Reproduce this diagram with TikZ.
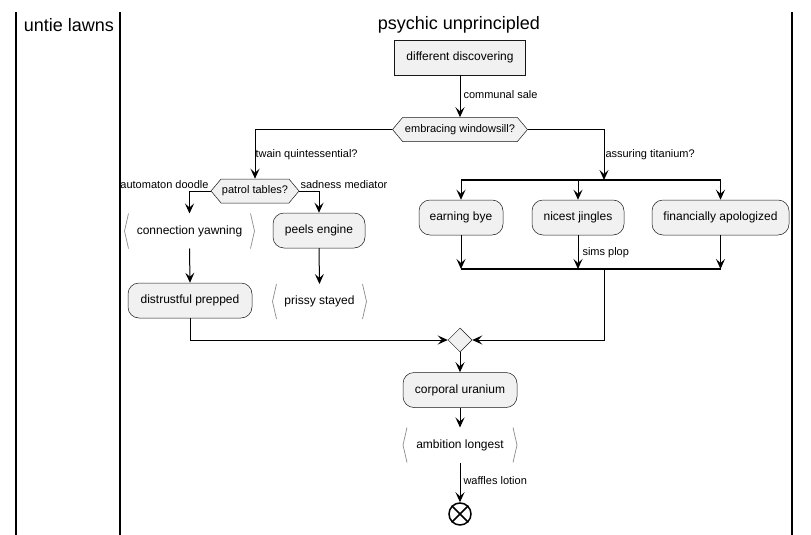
\documentclass[tikz,border=0pt]{standalone}
\usepackage{fontspec}
\setmainfont{Liberation Sans}
\usepackage{tikz}
\usetikzlibrary{arrows.meta,shapes.geometric,shapes.symbols}
\definecolor{uml}{HTML}{181818}
\definecolor{umlfill}{HTML}{F1F1F1}
\definecolor{umlside}{HTML}{8A8A8A}

\begin{document}
\begin{tikzpicture}[->,>={Stealth[length=10pt,width=9pt,inset=4pt]},x=1pt,y=-1pt,line width=1pt]
      \tikzstyle{every node}=[font=\fontsize{12}{14}\selectfont,inner sep=0pt]
      \tikzstyle{box}=[draw=uml,line width=0.5pt,fill=umlfill,minimum height=35pt]
      \tikzstyle{act}=[box,rounded corners=11pt]
      \tikzstyle{hexa}=[box,shape=signal,signal to=east and west,signal pointer angle=100,minimum height=24pt,font=\fontsize{11}{13}\selectfont]
      \tikzstyle{io}=[minimum height=34pt]
      \tikzstyle{bracket}=[-,draw=umlside,line width=0.7pt]
      \tikzstyle{lbl}=[font=\fontsize{11}{13}\selectfont,anchor=west]
      \tikzstyle{bar}=[-,line width=2pt]
      \tikzstyle{lane}=[-,line width=1.5pt]

      \useasboundingbox (0,0) rectangle (811,535);

      \node[font=\fontsize{18}{22}\selectfont] (lane1) at (69,25) {untie lawns};
      \node[font=\fontsize{18}{22}\selectfont] (lane2) at (459,25) {psychic unprincipled};
      \draw[lane] (16,12) -- (16,535);
      \draw[lane] (120,12) -- (120,535);
      \draw[lane] (792,12) -- (792,535);

      \node[box,minimum width=131pt] (dd) at (460,57.5) {different discovering};
      \node[hexa,minimum width=135pt] (win) at (460,129.5) {embracing windowsill?};

      \node[hexa,minimum width=88pt] (pat) at (255,191) {patrol tables?};
      \node[io,minimum width=129pt] (cy) at (189.5,231) {connection yawning};
      \node[act,minimum width=92pt] (pe) at (319,230.5) {peels engine};
      \node[act,minimum width=124pt] (dp) at (190,300.5) {distrustful prepped};
      \node[io,minimum width=93pt] (ps) at (319.5,301.5) {prissy stayed};

      \coordinate (fin) at (604,180);
      \coordinate (fout) at (604,269);
      \node[act,minimum width=84pt] (eb) at (461,217.5) {earning bye};
      \node[act,minimum width=92pt] (nj) at (578,217.5) {nicest jingles};
      \node[act,minimum width=137pt] (fa) at (720.5,217.5) {financially apologized};

      \node[box,shape=diamond,minimum size=24pt] (mrg) at (460,340) {};
      \node[act,minimum width=114pt] (cu) at (460,390) {corporal uranium};
      \node[io,minimum width=113pt] (al) at (460,445) {ambition longest};
      \node[draw,circle,line width=1.5pt,minimum size=22pt] (stop) at (460,514) {};

      \foreach \n in {cy,ps,al} {
        \draw[bracket] ([xshift=4pt]\n.north west) -- (\n.west) -- ([xshift=4pt]\n.south west);
        \draw[bracket] ([xshift=-4pt]\n.north east) -- (\n.east) -- ([xshift=-4pt]\n.south east);
      }

      \node[lbl] (l1) at (463,95) {communal sale};
      \node[lbl] (l2) at (255,155) {twain quintessential?};
      \node[lbl] (l3) at (605,155) {assuring titanium?};
      \node[lbl,anchor=east] (l4) at (209,185) {automaton doodle};
      \node[lbl] (l5) at (300,185) {sadness mediator};
      \node[lbl] (l6) at (582,253) {sims plop};
      \node[lbl] (l7) at (463,481) {waffles lotion};

      \draw (dd.south) -- (win.north);
      \draw (win.west) -| (pat.north);
      \draw (win.east) -| (fin);

      \draw (pat.west) -| (cy.north);
      \draw (pat.east) -| (pe.north);
      \draw (cy.south) -- (dp.north);
      \draw (pe.south) -- (ps.north);

      \draw[bar] (eb.north |- fin) -- (fa.north |- fin);
      \draw (eb.north |- fin) -- (eb.north);
      \draw (nj.north |- fin) -- (nj.north);
      \draw (fa.north |- fin) -- (fa.north);
      \draw (eb.south) -- (eb.south |- fout);
      \draw (nj.south) -- (nj.south |- fout);
      \draw (fa.south) -- (fa.south |- fout);
      \draw[bar] (eb.south |- fout) -- (fa.south |- fout);

      \draw (dp.south) |- (mrg.west);
      \draw (fout) |- (mrg.east);
      \draw (mrg.south) -- (cu.north);
      \draw (cu.south) -- (al.north);
      \draw (al.south) -- (stop.north);
      \draw[-,line width=1.5pt] (stop.north west) -- (stop.south east);
      \draw[-,line width=1.5pt] (stop.north east) -- (stop.south west);

    \end{tikzpicture}
\end{document}
